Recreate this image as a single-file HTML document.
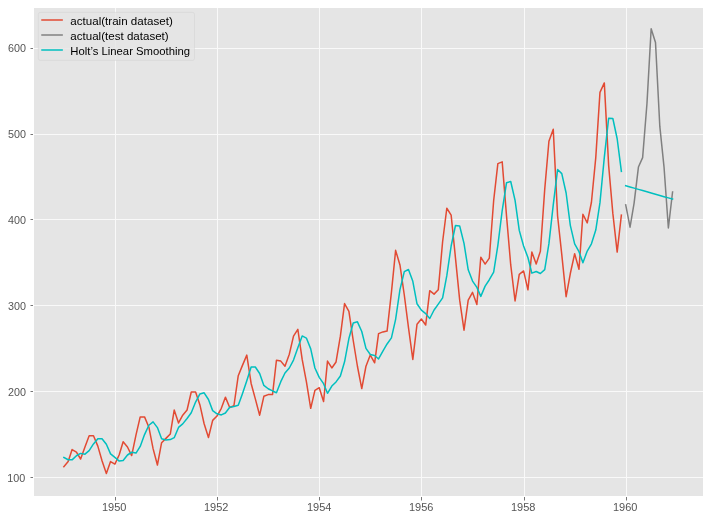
<!DOCTYPE html>
<html lang="en">
<head>
<meta charset="utf-8">
<title>Holt’s Linear Smoothing</title>
<style>
html,body{margin:0;padding:0;background:#ffffff;}
body{width:710px;height:520px;overflow:hidden;}
svg{display:block;will-change:transform;}
text{font-family:"Liberation Sans",sans-serif;font-size:10.5px;}
.tk{fill:#555555;}
.lg{fill:#000000;}
.ln{fill:none;stroke-width:1.5;stroke-linejoin:round;stroke-linecap:square;}
</style>
</head>
<body>
<svg width="710" height="520" viewBox="0 0 710 520">
<rect x="0" y="0" width="710" height="520" fill="#ffffff"/>
<rect x="34" y="8" width="669" height="488" fill="#e5e5e5" shape-rendering="crispEdges"/>
<g fill="#f9f9f9" shape-rendering="crispEdges">
<rect x="115" y="8" width="1" height="488"/>
<rect x="217" y="8" width="1" height="488"/>
<rect x="319" y="8" width="1" height="488"/>
<rect x="421" y="8" width="1" height="488"/>
<rect x="524" y="8" width="1" height="488"/>
<rect x="626" y="8" width="1" height="488"/>
<rect x="34" y="477" width="669" height="1"/>
<rect x="34" y="391" width="669" height="1"/>
<rect x="34" y="305" width="669" height="1"/>
<rect x="34" y="219" width="669" height="1"/>
<rect x="34" y="134" width="669" height="1"/>
<rect x="34" y="48" width="669" height="1"/>
</g>
<g fill="#777777" shape-rendering="crispEdges">
<rect x="115" y="497" width="1" height="3"/><rect x="115" y="500" width="1" height="1" fill="#bbbbbb"/>
<rect x="217" y="497" width="1" height="3"/><rect x="217" y="500" width="1" height="1" fill="#bbbbbb"/>
<rect x="319" y="497" width="1" height="3"/><rect x="319" y="500" width="1" height="1" fill="#bbbbbb"/>
<rect x="421" y="497" width="1" height="3"/><rect x="421" y="500" width="1" height="1" fill="#bbbbbb"/>
<rect x="524" y="497" width="1" height="3"/><rect x="524" y="500" width="1" height="1" fill="#bbbbbb"/>
<rect x="626" y="497" width="1" height="3"/><rect x="626" y="500" width="1" height="1" fill="#bbbbbb"/>
<rect x="31" y="477" width="2" height="1"/><rect x="30" y="477" width="1" height="1" fill="#bbbbbb"/>
<rect x="31" y="391" width="2" height="1"/><rect x="30" y="391" width="1" height="1" fill="#bbbbbb"/>
<rect x="31" y="305" width="2" height="1"/><rect x="30" y="305" width="1" height="1" fill="#bbbbbb"/>
<rect x="31" y="219" width="2" height="1"/><rect x="30" y="219" width="1" height="1" fill="#bbbbbb"/>
<rect x="31" y="134" width="2" height="1"/><rect x="30" y="134" width="1" height="1" fill="#bbbbbb"/>
<rect x="31" y="48" width="2" height="1"/><rect x="30" y="48" width="1" height="1" fill="#bbbbbb"/>
</g>
<polyline class="ln" stroke="#e24a33" points="63.84,466.71 68.17,461.56 72.09,449.54 76.42,452.12 80.62,458.99 84.96,446.96 89.15,435.80 93.49,435.80 97.83,446.11 102.02,460.70 106.36,473.58 110.55,461.56 114.89,464.14 119.23,454.69 123.14,441.81 127.48,446.96 131.67,455.55 136.01,434.94 140.21,416.91 144.54,416.91 148.88,427.22 153.08,448.68 157.41,465.00 161.61,442.67 165.94,438.38 170.28,434.09 174.20,410.04 178.53,422.92 182.73,415.20 187.06,410.04 191.26,392.01 195.60,392.01 199.93,404.89 204.13,423.78 208.47,437.52 212.66,420.35 217.00,416.05 221.33,408.33 225.39,397.16 229.73,407.47 233.92,405.75 238.26,375.70 242.45,365.40 246.79,355.09 251.13,383.43 255.32,398.88 259.66,415.20 263.85,396.31 268.19,394.59 272.53,394.59 276.44,360.24 280.78,361.10 284.98,366.25 289.31,354.23 293.51,336.20 297.84,329.33 302.18,359.39 306.38,381.71 310.71,408.33 314.91,390.30 319.24,387.72 323.58,401.46 327.50,361.10 331.83,367.97 336.03,361.96 340.37,336.20 344.56,303.58 348.90,311.30 353.23,340.50 357.43,366.25 361.77,388.58 365.96,366.25 370.30,355.09 374.63,362.82 378.55,333.63 382.89,331.91 387.08,331.05 391.42,292.41 395.62,250.34 399.95,264.94 404.29,294.99 408.48,327.62 412.82,359.39 417.02,324.18 421.35,319.03 425.69,325.04 429.74,290.70 434.08,294.13 438.28,289.84 442.61,241.76 446.81,208.27 451.14,215.14 455.48,258.07 459.68,300.14 464.01,330.19 468.21,300.14 472.55,292.41 476.88,304.43 480.80,257.21 485.13,264.08 489.33,258.07 493.67,200.54 497.86,163.62 502.20,161.90 506.53,216.00 510.73,264.94 515.07,301.00 519.26,274.38 523.60,270.95 527.93,289.84 531.85,252.06 536.19,264.08 540.38,251.20 544.72,189.38 548.92,141.30 553.25,129.28 557.59,216.00 561.78,254.63 566.12,296.71 570.32,273.52 574.65,253.78 578.99,269.23 582.91,214.28 587.24,222.87 591.44,202.26 595.77,157.61 599.97,92.36 604.31,82.91 608.64,165.34 612.84,213.42 617.17,252.06 621.37,215.14"/>
<polyline class="ln" stroke="#808080" points="625.71,204.83 630.04,227.16 634.10,203.12 638.43,167.06 642.63,157.61 646.97,103.52 651.16,28.82 655.50,42.56 659.84,126.70 664.03,167.06 668.37,228.02 672.56,191.96"/>
<polyline class="ln" stroke="#00bfbf" points="63.84,457.52 68.17,459.75 72.09,459.87 76.42,455.73 80.62,453.38 84.96,454.14 89.15,450.63 93.49,443.94 97.83,438.76 102.02,438.67 106.36,444.31 110.55,453.88 114.89,457.43 119.23,461.09 123.14,460.44 127.48,455.00 131.67,452.25 136.01,453.11 140.21,446.43 144.54,434.58 148.88,425.22 153.08,421.88 157.41,427.59 161.61,438.73 165.94,440.06 170.28,439.61 174.20,437.67 178.53,427.44 182.73,423.88 187.06,418.54 191.26,412.75 195.60,402.05 199.93,393.95 204.13,392.80 208.47,399.52 212.66,410.63 217.00,413.84 221.33,414.93 225.39,412.98 229.73,407.31 233.92,406.45 238.26,405.29 242.45,393.68 246.79,380.77 251.13,367.10 255.32,367.01 259.66,373.50 263.85,385.44 268.19,388.78 272.53,390.95 276.44,392.69 280.78,381.66 284.98,372.96 289.31,368.01 293.51,360.12 297.84,347.75 302.18,335.92 306.38,338.07 310.71,348.89 314.91,368.01 319.24,377.32 323.58,383.70 327.50,393.34 331.83,386.05 336.03,381.93 340.37,376.04 344.56,361.80 348.90,338.55 353.23,322.96 357.43,321.85 361.77,331.47 365.96,348.33 370.30,354.51 374.63,355.52 378.55,358.98 382.89,351.13 387.08,343.96 391.42,337.91 395.62,319.36 399.95,289.61 404.29,271.68 408.48,269.54 412.82,281.32 417.02,303.78 421.35,310.17 425.69,313.62 429.74,318.53 434.08,309.99 438.28,304.09 442.61,297.82 446.81,275.64 451.14,246.03 455.48,225.51 459.68,225.97 464.01,243.37 468.21,269.78 472.55,281.07 476.88,287.33 480.80,296.35 485.13,286.15 489.33,279.74 493.67,272.15 497.86,245.29 502.20,210.51 506.53,182.73 510.73,181.51 515.07,200.34 519.26,230.38 523.60,246.06 527.93,257.51 531.85,273.12 536.19,271.46 540.38,273.45 544.72,269.65 548.92,243.63 553.25,204.85 557.59,169.56 561.78,173.66 566.12,192.98 570.32,225.35 574.65,243.95 578.99,251.63 582.91,262.70 587.24,251.06 591.44,243.79 595.77,230.03 599.97,202.66 604.31,157.31 608.64,118.26 612.84,118.48 617.17,138.76 621.37,171.34"/>
<polyline class="ln" stroke="#00bfbf" points="625.71,185.70 630.04,186.92 634.10,188.14 638.43,189.36 642.63,190.58 646.97,191.80 651.16,193.02 655.50,194.24 659.84,195.46 664.03,196.68 668.37,197.90 672.56,199.12"/>
<g class="tk">
<text x="102" y="511" textLength="24.45" lengthAdjust="spacingAndGlyphs">1950</text>
<text x="204" y="511" textLength="24.45" lengthAdjust="spacingAndGlyphs">1952</text>
<text x="307" y="511" textLength="24.45" lengthAdjust="spacingAndGlyphs">1954</text>
<text x="409" y="511" textLength="24.45" lengthAdjust="spacingAndGlyphs">1956</text>
<text x="511" y="511" textLength="24.45" lengthAdjust="spacingAndGlyphs">1958</text>
<text x="613" y="511" textLength="24.45" lengthAdjust="spacingAndGlyphs">1960</text>
<text x="7.3" y="482" textLength="17.99" lengthAdjust="spacingAndGlyphs">100</text>
<text x="8" y="396" textLength="17.99" lengthAdjust="spacingAndGlyphs">200</text>
<text x="8" y="310" textLength="17.99" lengthAdjust="spacingAndGlyphs">300</text>
<text x="8" y="224" textLength="17.99" lengthAdjust="spacingAndGlyphs">400</text>
<text x="8" y="138" textLength="17.99" lengthAdjust="spacingAndGlyphs">500</text>
<text x="8" y="52" textLength="17.99" lengthAdjust="spacingAndGlyphs">600</text>
</g>
<rect x="38.3" y="12.4" width="156.21" height="48.0" rx="2" ry="2" fill="#e5e5e5" fill-opacity="0.8" stroke="#cccccc" stroke-opacity="0.8" stroke-width="0.5"/>
<line class="ln" stroke="#e24a33" x1="42.0" y1="20" x2="62.1" y2="20"/>
<line class="ln" stroke="#808080" x1="42.0" y1="35" x2="62.1" y2="35"/>
<line class="ln" stroke="#00bfbf" x1="42.0" y1="50" x2="62.1" y2="50"/>
<g class="lg">
<text x="70.3" y="25" textLength="102.46" lengthAdjust="spacingAndGlyphs">actual(train dataset)</text>
<text x="70.3" y="40" textLength="98.38" lengthAdjust="spacingAndGlyphs">actual(test dataset)</text>
<text x="70.3" y="55" textLength="119.81" lengthAdjust="spacingAndGlyphs">Holt’s Linear Smoothing</text>
</g>
</svg>
</body>
</html>
